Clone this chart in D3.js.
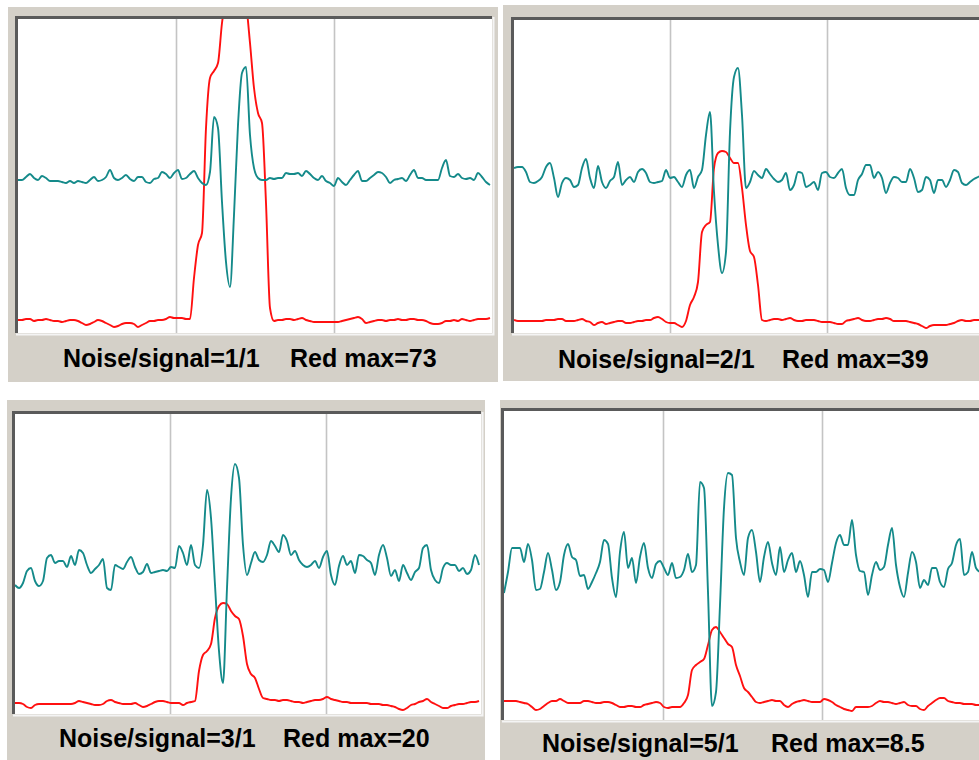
<!DOCTYPE html>
<html><head><meta charset="utf-8">
<script src="https://cdn.jsdelivr.net/npm/d3@7"></script>
<style>html,body{margin:0;padding:0;background:#fff;}svg{display:block}</style>
</head><body><svg id="c" width="979" height="760"></svg>
<script>
// ---- data: evenly spaced samples, amplitude in arbitrary units ----
const teal1 = [153,153,156,159,155,153,157,155,152,152,
 152,151,150,152,150,152,151,150,153,156,
 152,153,156,163,155,153,155,158,154,152,
 156,156,151,150,154,155,161,159,155,160,
 163,154,155,159,162,155,150,148,161,216,
 205,131,71,46,118,208,260,266,198,165,
 155,153,153,155,154,155,155,160,159,159,
 160,157,162,159,155,153,157,152,150,147,
 155,151,148,153,158,162,152,152,155,158,
 161,160,156,150,153,154,155,152,158,163,
 155,155,153,153,153,153,165,173,157,156,
 159,155,154,155,153,160,156,151,148];
const red1 = [13,13,14,14,12,13,13,14,13,12,
 12,11,12,13,13,12,10,8,9,11,
 13,12,10,8,6,7,9,10,10,9,
 6,8,10,12,12,13,13,14,16,15,
 15,15,14,14,55,88,100,205,255,262,
 270,310,335,345,350,350,345,330,290,245,
 220,210,130,25,12,13,13,14,14,13,
 14,15,13,12,11,11,11,11,11,11,
 11,12,13,14,15,16,14,10,11,12,
 13,13,12,13,13,14,13,13,14,14,
 13,13,12,10,9,9,10,12,12,13,
 12,14,13,12,13,14,14,14,15];
const teal2 = [165,166,166,161,151,150,152,156,166,170,
 155,136,150,155,153,146,148,165,174,155,
 145,167,151,145,152,156,171,148,153,156,
 151,161,164,160,151,150,151,152,163,155,
 156,151,146,158,163,145,156,163,198,221,
 141,88,60,81,201,256,265,218,145,151,
 162,158,155,164,159,154,151,153,160,143,
 148,161,160,146,148,151,143,160,161,156,
 155,160,164,145,138,138,153,159,168,168,
 155,161,155,140,150,156,155,151,151,164,
 155,141,143,156,153,140,153,153,146,153,
 163,161,150,148,151,154,156,158];
const red2 = [13,12,12,12,12,12,12,12,13,13,
 13,14,14,12,12,12,13,14,12,11,
 8,10,11,9,10,11,12,12,10,10,
 11,12,12,13,13,15,16,14,11,10,
 10,8,6,12,28,36,51,101,108,111,
 165,180,182,181,175,170,170,145,108,82,
 76,48,13,12,13,14,14,13,14,15,
 13,12,12,13,13,13,12,11,11,11,
 10,9,9,12,13,14,15,13,12,12,
 13,14,14,15,14,12,12,12,12,11,
 10,9,7,5,7,8,8,8,8,9,
 10,12,13,12,12,13,13,13];
const teal3 = [129,126,131,143,146,133,128,133,156,159,
 151,153,153,147,158,149,164,161,149,141,
 145,149,155,126,124,149,147,145,152,157,
 147,140,142,150,141,142,143,144,143,147,
 146,168,161,149,169,149,146,169,224,196,
 129,63,31,126,216,250,236,169,139,151,
 162,154,152,159,173,168,162,179,173,159,
 163,154,149,147,149,153,146,157,163,139,
 129,148,158,149,153,141,159,158,154,151,
 139,159,169,156,138,144,133,149,141,134,
 142,146,166,169,144,134,131,146,151,149,
 149,143,146,140,144,159,149];
const red3 = [11,11,10,7,6,9,10,10,10,10,
 10,10,10,10,10,11,13,12,11,10,
 9,9,10,13,14,12,11,10,10,10,
 11,9,7,8,10,12,13,13,12,11,
 11,11,9,11,12,13,43,59,63,70,
 96,108,111,110,103,98,95,78,50,40,
 36,25,16,15,14,14,13,14,14,13,
 12,12,11,12,13,14,14,15,17,15,
 14,13,12,12,11,11,11,11,11,10,
 10,10,9,9,8,7,5,4,6,9,
 10,12,13,15,12,10,8,6,6,8,
 9,10,10,11,12,12,13];
const teal4 = [127,148,172,172,172,158,176,160,130,131,
 148,167,150,130,138,165,176,163,160,144,
 145,131,138,147,158,180,176,142,123,168,
 188,152,162,137,163,177,152,142,156,159,
 152,145,157,142,143,150,166,148,155,238,
 232,128,14,28,115,212,247,245,182,158,
 145,182,190,168,138,163,178,157,145,173,
 148,160,167,148,159,145,123,148,148,151,
 150,138,157,177,185,175,175,200,165,149,
 148,125,145,158,150,153,175,192,155,133,
 123,147,168,158,132,140,135,152,152,138,
 133,151,157,175,181,145,148,168,152,148];
const red4 = [19,19,19,19,18,17,16,13,10,11,
 14,17,19,19,21,19,17,17,17,17,
 19,19,18,17,17,18,18,17,15,13,
 13,14,14,13,13,15,16,17,18,17,
 13,12,13,13,13,17,25,50,55,58,
 61,75,90,93,88,82,76,73,55,44,
 32,28,23,18,17,18,19,20,19,19,
 15,13,16,18,19,20,19,18,18,18,
 21,20,18,15,13,11,10,9,13,13,
 13,13,14,17,19,18,18,17,16,17,
 18,15,14,14,11,10,14,17,20,22,
 22,19,18,17,17,16,16,16,15,15];
const noiseLabels = ["Noise/signal=1/1","Noise/signal=2/1","Noise/signal=3/1","Noise/signal=5/1"];
const redMaxLabels = ["Red max=73","Red max=39","Red max=20","Red max=8.5"];

// ---- layout (positions only) ----
const layout = [
 {box:[8,7,490,375],  plot:[18,19,492,333],  base:367, tx:[63,290]},
 {box:[503,5,476,376],plot:[514,20,983,333], base:368, tx:[558,782]},
 {box:[7,400,478,360],plot:[15,414,481,714], base:747, tx:[59,283]},
 {box:[500,400,479,360],plot:[504,411,981,720],base:752, tx:[542,771]}
];
const series = [[teal1,red1],[teal2,red2],[teal3,red3],[teal4,red4]];
const SPACING = 4;

const svg = d3.select("#c");
layout.forEach((L,k)=>{
  const [tealData, redData] = series[k];
  const [l,t,r,b] = L.plot;
  const g = svg.append("g");
  g.append("rect").attr("x",L.box[0]).attr("y",L.box[1]).attr("width",L.box[2]).attr("height",L.box[3]).attr("fill","#d4d0c8");
  g.append("rect").attr("x",l).attr("y",t).attr("width",r-l).attr("height",b-t).attr("fill","#ffffff");

  const x = d3.scaleLinear().domain([0,(r-l)/SPACING]).range([l,r]);
  const y = d3.scaleLinear().domain([0,b-t]).range([b,t]);

  const clipId = "clip"+k;
  g.append("clipPath").attr("id",clipId).append("rect").attr("x",l).attr("y",t).attr("width",r-l).attr("height",b-t);
  const inner = g.append("g").attr("clip-path","url(#"+clipId+")");

  const span = x.domain()[1];
  inner.selectAll("line.grid").data([span/3, 2*span/3]).join("line")
    .attr("x1",d=>Math.round(x(d))+0.5).attr("x2",d=>Math.round(x(d))+0.5)
    .attr("y1",t).attr("y2",b).attr("stroke","#c4c4c4").attr("stroke-width",1.6);

  const line = d3.line().x((d,i)=>x(i)).y(d=>y(d)).curve(d3.curveMonotoneX);
  inner.append("path").datum(redData).attr("d",line).attr("fill","none")
    .attr("stroke","#ff1010").attr("stroke-width",1.9).attr("stroke-linejoin","round");
  inner.append("path").datum(tealData).attr("d",line).attr("fill","none")
    .attr("stroke","#148a8a").attr("stroke-width",1.9).attr("stroke-linejoin","round");

  // sunken 3D frame
  g.append("path").attr("d",`M${l-1.5},${b}V${t-1.5}H${r}`).attr("fill","none").attr("stroke","#5a5a5a").attr("stroke-width",3);
  g.append("path").attr("d",`M${l-2},${b+1.5}H${r+1.5}V${t-2}`).attr("fill","none").attr("stroke","#f4f4f4").attr("stroke-width",2);

  const tg = g.append("g").attr("font-family","'Liberation Sans', Arial, sans-serif").attr("font-weight","bold").attr("font-size","25px").attr("fill","#000");
  tg.append("text").attr("x",L.tx[0]).attr("y",L.base).text(noiseLabels[k]);
  tg.append("text").attr("x",L.tx[1]).attr("y",L.base).text(redMaxLabels[k]);
});
</script></body></html>
